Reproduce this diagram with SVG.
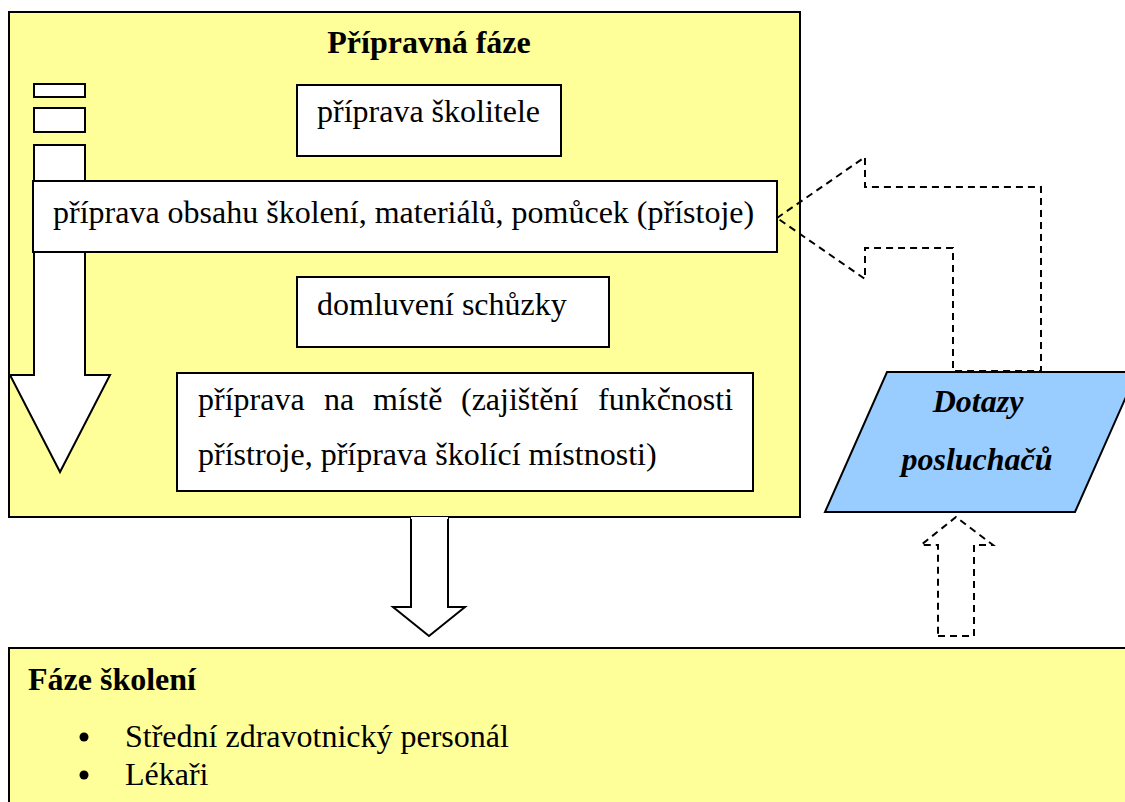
<svg xmlns="http://www.w3.org/2000/svg" width="1125" height="802" viewBox="0 0 1125 802">
<style>
text{font-family:"Liberation Serif","Times New Roman",serif;font-size:32px;fill:#000}
.b{font-weight:bold}
.bi{font-weight:bold;font-style:italic}
.box{fill:#fff;stroke:#000;stroke-width:2}
.yel{fill:#FFFF99;stroke:#000;stroke-width:2}
.dash{fill:none;stroke:#000;stroke-width:2;stroke-dasharray:7 5}
</style>
<rect width="1125" height="802" fill="#fff"/>
<g id="priprava-faze">
<rect class="yel" x="9" y="12" width="791" height="505"/>
<text class="b" x="429" y="53" text-anchor="middle">Přípravná fáze</text>
</g>
<g id="flow-arrow">
<rect class="box" x="34" y="84" width="51" height="13"/>
<rect class="box" x="34" y="108" width="51" height="24"/>
<polygon class="box" points="34,145 85,145 85,375 110,375 60,472 10,375 34,375"/>
</g>
<g id="priprava-skolitele">
<rect class="box" x="297" y="85" width="264" height="71"/>
<text x="317" y="122">příprava školitele</text>
</g>
<g id="priprava-obsahu">
<rect class="box" x="33" y="181" width="744" height="71"/>
<text x="53" y="223">příprava obsahu školení, materiálů, pomůcek (přístoje)</text>
</g>
<g id="domluveni">
<rect class="box" x="297" y="277" width="312" height="70"/>
<text x="317" y="315">domluvení schůzky</text>
</g>
<g id="priprava-na-miste">
<rect class="box" x="177" y="373" width="576" height="118"/>
<text y="410"><tspan x="198">příprava</tspan><tspan x="324">na</tspan><tspan x="373">místě</tspan><tspan x="461">(zajištění</tspan><tspan x="598">funkčnosti</tspan></text>
<text x="198" y="465">přístroje, příprava školící místnosti)</text>
</g>
<g id="dotazy">
<polygon points="887,372 1137,372 1075,512 825,512" fill="#99CCFF" stroke="#000" stroke-width="2"/>
<text class="bi" x="978" y="412" text-anchor="middle">Dotazy</text>
<text class="bi" x="977" y="470" text-anchor="middle">posluchačů</text>
</g>
<g id="faze-skoleni">
<rect class="yel" x="9" y="648" width="1130" height="170"/>
<text class="b" x="28" y="690">Fáze školení</text>
<circle cx="84" cy="737" r="4.5" fill="#000"/>
<text x="125" y="747">Střední zdravotnický personál</text>
<circle cx="84" cy="775" r="4.5" fill="#000"/>
<text x="125" y="785">Lékaři</text>
</g>
<g id="connectors">
<polygon class="box" points="411,517 448,517 448,607 465,607 429,636 393,607 411,607"/>
<line x1="411" y1="518" x2="448" y2="518" stroke="#fff" stroke-width="2"/>
<polygon class="dash" points="777,218 865,157 865,187 1041,187 1041,371 953,371 953,248 865,248 865,279"/>
<polygon class="dash" points="938,636 974,636 974,545 993,545 956,517 921,545 938,545"/>
</g>
</svg>
